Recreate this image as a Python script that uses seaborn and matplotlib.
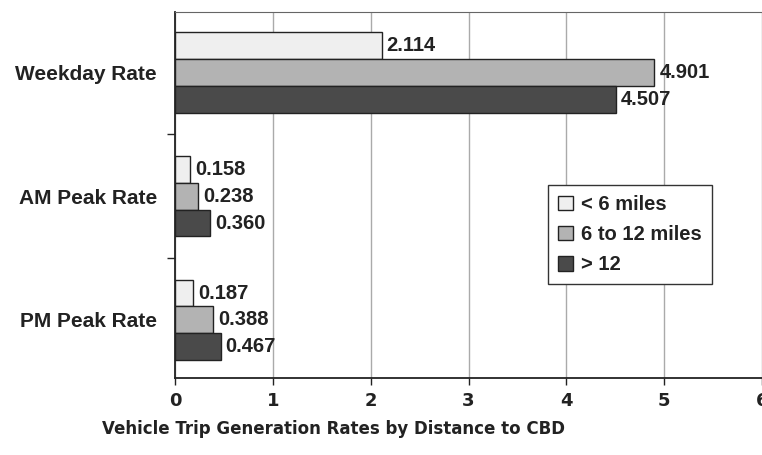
import pandas as pd
import seaborn as sns
import matplotlib.pyplot as plt

# rates
categories = ["Weekday Rate", "AM Peak Rate", "PM Peak Rate"]
series = ["< 6 miles", "6 to 12 miles", "> 12"]
under_6 = [2.114, 0.158, 0.187]
six_to_12 = [4.901, 0.238, 0.388]
over_12 = [4.507, 0.360, 0.467]
x_ticks = [0, 1, 2, 3, 4, 5, 6]

df = pd.DataFrame({
    "category": categories * 3,
    "distance": [s for s in series for _ in categories],
    "rate": under_6 + six_to_12 + over_12,
})

sns.set_style("ticks")
plt.rcParams["font.family"] = ["Liberation Sans", "DejaVu Sans"]

fig = plt.figure(figsize=(7.62, 4.55), dpi=100)
ax = fig.add_axes([175 / 762, 1 - 378 / 455, 1 - 175 / 762, (378 - 12) / 455])

palette = ["#efefef", "#b3b3b3", "#4a4a4a"]
sns.barplot(data=df, y="category", x="rate", hue="distance", hue_order=series,
            order=categories, palette=palette, orient="h", width=0.65,
            edgecolor="#222222", linewidth=1, ax=ax, zorder=3, saturation=1)

for cont in ax.containers:
    ax.bar_label(cont, fmt="%.3f", padding=3.5, fontsize=14.5, fontweight="bold",
                 color="#222222")

ax.set_xlim(0, 6)
ax.set_xticks(x_ticks)
ax.set_ylim(2.47, -0.49)
ax.grid(axis="x", color="#aaaaaa", linewidth=1, zorder=0)
ax.set_xlabel("")
ax.set_ylabel("")
ax.tick_params(axis="x", labelsize=13, length=5, width=1, pad=5, colors="#222222")
ax.tick_params(axis="y", which="major", length=0, labelsize=15, pad=13, colors="#222222")
for lab in ax.get_xticklabels():
    lab.set_fontweight("bold")
    lab.set_family(["DejaVu Sans"])
for lab in ax.get_yticklabels():
    lab.set_fontweight("bold")
ax.set_yticks([0.5, 1.5], minor=True)
ax.tick_params(axis="y", which="minor", length=6, width=1, direction="out")

for side in ["left", "bottom"]:
    ax.spines[side].set_color("#222222")
    ax.spines[side].set_linewidth(1.3)
ax.spines["top"].set_color("#666666")
ax.spines["right"].set_visible(False)

leg = ax.legend(loc="upper left", bbox_to_anchor=(548 / 762, 1 - 185 / 455),
                bbox_transform=fig.transFigure, frameon=True, fancybox=False,
                framealpha=1, edgecolor="#333333", handlelength=0.75,
                handleheight=0.75, handletextpad=0.4, labelspacing=0.55,
                borderpad=0.5, borderaxespad=0, prop={"size": 14.5, "weight": "bold"})
leg.get_frame().set_linewidth(1)
for t in leg.get_texts():
    t.set_color("#222222")

fig.text(333 / 762, 1 - 429 / 455, "Vehicle Trip Generation Rates by Distance to CBD",
         ha="center", va="center", fontsize=12, fontweight="bold",
         family=["DejaVu Sans"], color="#222222")

fig.savefig("out.png", dpi=100)
